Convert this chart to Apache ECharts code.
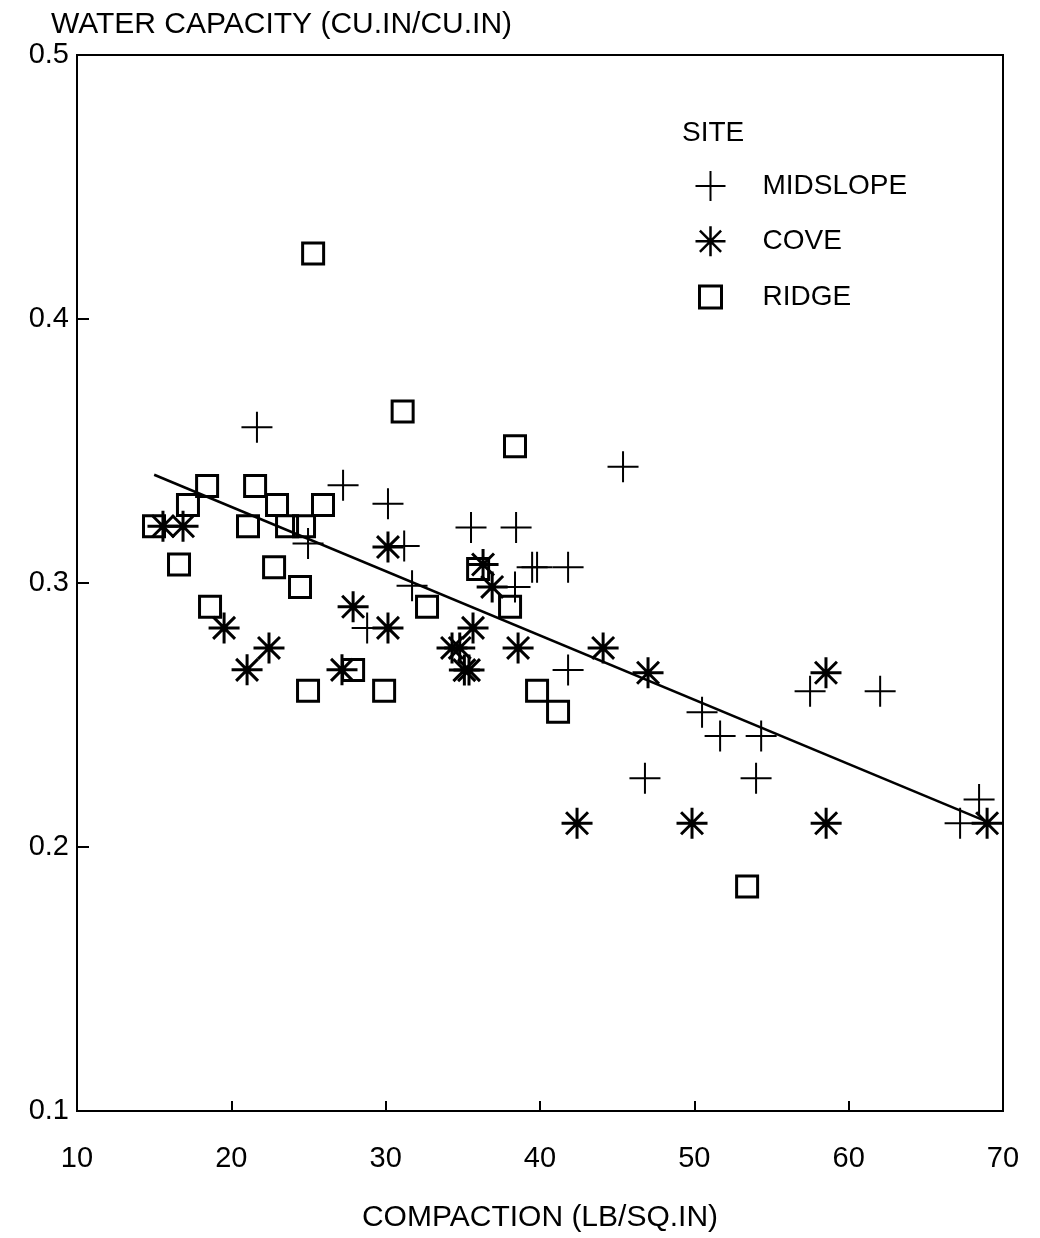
<!DOCTYPE html>
<html>
<head>
<meta charset="utf-8">
<script src="https://cdn.jsdelivr.net/npm/echarts@6/dist/echarts.min.js"></script>
<style>
  html, body { margin: 0; padding: 0; background: #fff; }
  #chart { width: 1040px; height: 1238px; }
</style>
</head>
<body>
<div id="chart"></div>
<script>
// ---- Data ----
var xTicks = [10, 20, 30, 40, 50, 60, 70];
var yTicks = [0.1, 0.2, 0.3, 0.4, 0.5];

var midslope = [
  [21.66, 0.359], [27.24, 0.337], [30.15, 0.330], [24.97, 0.315], [31.2, 0.314],
  [31.71, 0.299], [28.8, 0.283], [35.53, 0.321], [38.45, 0.321], [39.49, 0.306],
  [39.81, 0.306], [41.82, 0.306], [38.38, 0.2985], [45.38, 0.344], [41.82, 0.267],
  [50.5, 0.251], [51.67, 0.242], [54.33, 0.242], [46.8, 0.226], [54.0, 0.226],
  [57.5, 0.259], [62.04, 0.259], [67.22, 0.209], [68.45, 0.218]
];

var cove = [
  [15.57, 0.3215], [16.87, 0.3215], [30.15, 0.3136], [19.53, 0.283], [27.89, 0.291],
  [30.15, 0.283], [22.44, 0.2754], [21.02, 0.2671], [27.17, 0.2671], [36.31, 0.307],
  [36.9, 0.2985], [35.66, 0.283], [34.3, 0.2754], [34.8, 0.2754], [35.1, 0.267],
  [35.4, 0.267], [38.58, 0.2754], [44.09, 0.2754], [47.0, 0.266], [58.53, 0.266],
  [42.4, 0.209], [49.85, 0.209], [58.54, 0.209], [68.97, 0.209]
];

var ridge = [
  [14.99, 0.3215], [17.19, 0.3295], [18.43, 0.3367], [21.54, 0.3367], [22.96, 0.3295],
  [25.94, 0.3295], [21.08, 0.3215], [23.61, 0.3215], [24.71, 0.3215], [25.3, 0.4248],
  [31.1, 0.365], [38.38, 0.3518], [16.61, 0.307], [22.77, 0.306], [24.45, 0.2985],
  [32.68, 0.291], [18.62, 0.291], [27.89, 0.267], [24.97, 0.2592], [29.9, 0.2592],
  [35.99, 0.3053], [38.06, 0.291], [39.81, 0.2592], [41.17, 0.2512], [53.42, 0.185]
];

var fitLine = [[15.0, 0.341], [68.8, 0.210]];

var siteNames = ['MIDSLOPE', 'COVE', 'RIDGE'];

// ---- Symbols ----
var PLUS = 'path://M0,10 L20,10 M10,0 L10,20';
var STAR = 'path://M0,10 L20,10 M10,0 L10,20 M2.93,2.93 L17.07,17.07 M17.07,2.93 L2.93,17.07';
var SQUARE_ICON = 'path://M0,0 M30,30 M4,4 L26,4 L26,26 L4,26 Z';
var FONT = '"Liberation Sans", Arial, sans-serif';

var chart = echarts.init(document.getElementById('chart'), null, { renderer: 'canvas' });

var option = {
  animation: false,
  backgroundColor: '#fff',
  title: [
    {
      text: 'WATER CAPACITY (CU.IN/CU.IN)',
      left: 46, top: 5,
      textStyle: { fontFamily: FONT, fontSize: 30, fontWeight: 'normal', color: '#000' }
    },
    {
      text: 'SITE',
      left: 677, top: 114,
      textStyle: { fontFamily: FONT, fontSize: 28, fontWeight: 'normal', color: '#000' }
    }
  ],
  legend: {
    orient: 'vertical',
    left: 689, top: 165,
    itemWidth: 30, itemHeight: 30, itemGap: 23,
    selectedMode: false,
    textStyle: { fontFamily: FONT, fontSize: 28, color: '#000', padding: [0, 0, 0, 32] },
    data: [
      { name: siteNames[0], icon: PLUS, itemStyle: { color: 'transparent', borderColor: '#000', borderWidth: 2 } },
      { name: siteNames[1], icon: STAR, itemStyle: { color: 'transparent', borderColor: '#000', borderWidth: 2.5 } },
      { name: siteNames[2], icon: SQUARE_ICON, itemStyle: { color: 'transparent', borderColor: '#000', borderWidth: 3 } }
    ]
  },
  grid: {
    left: 77, right: 37, top: 55, bottom: 125,
    show: true, borderColor: '#000', borderWidth: 2, backgroundColor: 'transparent'
  },
  xAxis: {
    type: 'value', min: xTicks[0], max: xTicks[xTicks.length - 1], interval: 10,
    name: 'COMPACTION (LB/SQ.IN)', nameLocation: 'middle', nameGap: 92,
    nameTextStyle: { fontFamily: FONT, fontSize: 30, color: '#000' },
    axisLine: { show: true, lineStyle: { color: '#000', width: 2 } },
    axisTick: { show: true, inside: true, length: 10, lineStyle: { color: '#000', width: 2 } },
    axisLabel: { margin: 33, fontFamily: FONT, fontSize: 29, color: '#000' },
    splitLine: { show: false }
  },
  yAxis: {
    type: 'value', min: yTicks[0], max: yTicks[yTicks.length - 1], interval: 0.1,
    axisLine: { show: true, lineStyle: { color: '#000', width: 2 } },
    axisTick: { show: true, inside: true, length: 12, lineStyle: { color: '#000', width: 2 } },
    axisLabel: { margin: 8, fontFamily: FONT, fontSize: 29, color: '#000',
      formatter: function (v) { return v.toFixed(1); } },
    splitLine: { show: false }
  },
  series: [
    {
      name: 'fit', type: 'line', data: fitLine, showSymbol: false, symbol: 'none',
      lineStyle: { color: '#000', width: 2.5 }, z: 1, silent: true
    },
    {
      name: siteNames[0], type: 'scatter', data: midslope, symbol: PLUS, symbolSize: 31,
      itemStyle: { color: 'transparent', borderColor: '#000', borderWidth: 2, opacity: 1 }, z: 3
    },
    {
      name: siteNames[1], type: 'scatter', data: cove, symbol: STAR, symbolSize: 31,
      itemStyle: { color: 'transparent', borderColor: '#000', borderWidth: 3, opacity: 1 }, z: 3
    },
    {
      name: siteNames[2], type: 'scatter', data: ridge, symbol: 'rect', symbolSize: 21,
      itemStyle: { color: 'transparent', borderColor: '#000', borderWidth: 3, opacity: 1 }, z: 3
    }
  ]
};

chart.setOption(option);
</script>
</body>
</html>
